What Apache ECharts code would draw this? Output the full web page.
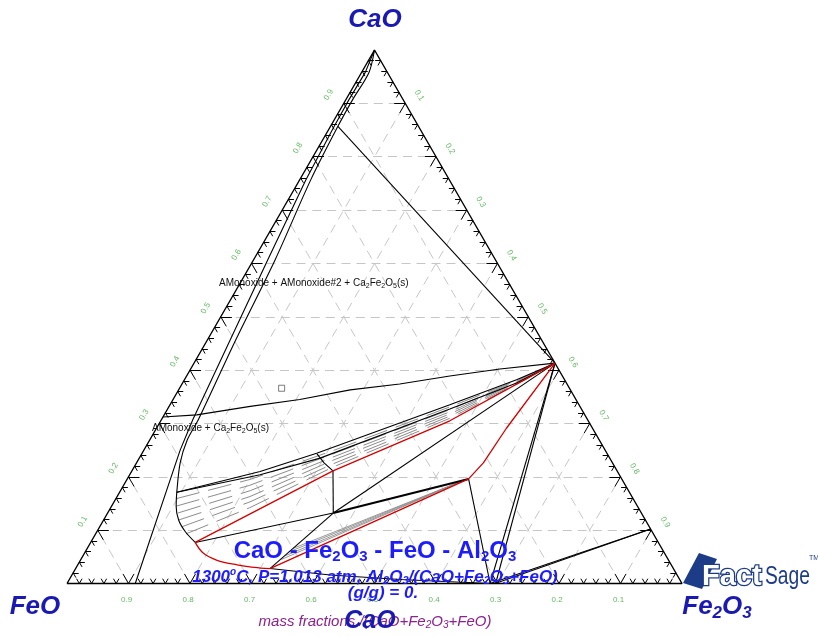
<!DOCTYPE html>
<html>
<head>
<meta charset="utf-8">
<script src="https://cdn.jsdelivr.net/npm/echarts/dist/echarts.min.js"></script>
<style>
  html, body { margin: 0; padding: 0; background: #fff; }
  #chart { width: 818px; height: 636px; }
</style>
</head>
<body>
<div id="chart"></div>
<script>
// CaO - Fe2O3 - FeO isothermal section at 1300 C.
// Every composition is [CaO, Fe2O3] in mass fraction; FeO = 1 - CaO - Fe2O3.

const gridLevels = [0.1, 0.2, 0.3, 0.4, 0.5, 0.6, 0.7, 0.8, 0.9];
const axisLabels = ['0.1', '0.2', '0.3', '0.4', '0.5', '0.6', '0.7', '0.8', '0.9'];

// Ca2Fe2O5 composition
const c2f = [0.413, 0.587];

// monoxide boundary running from the CaO corner to the FeO-Fe2O3 side
const monoxideEdge = [[1.000, 0.000], [0.958, 0.006], [0.907, 0.005], [0.857, 0.006], [0.757, 0.010],
  [0.607, 0.023], [0.457, 0.037], [0.307, 0.051], [0.250, 0.059], [0.000, 0.111]];

// monoxide / liquid boundary
const liquidEdge = [[1.000, 0.000], [0.958, 0.012], [0.907, 0.011], [0.857, 0.012], [0.757, 0.018],
  [0.607, 0.035], [0.457, 0.046], [0.307, 0.060], [0.269, 0.061], [0.226, 0.071], [0.171, 0.093],
  [0.145, 0.105], [0.119, 0.122], [0.097, 0.144], [0.077, 0.170]];

// liquidus (red)
const liquidusLow = [[0.077, 0.170], [0.057, 0.193], [0.044, 0.221], [0.035, 0.259], [0.029, 0.300], [0.028, 0.316]];
const liquidusMid = [[0.028, 0.316], [0.196, 0.555], [0.226, 0.564], [0.291, 0.569], [0.413, 0.587]];
const liquidusUp = [[0.077, 0.170], [0.211, 0.327], [0.305, 0.470], [0.413, 0.587]];

// black phase boundaries
const c2fLineTop = [[0.857, 0.012], [0.413, 0.587]];
const monoxideC2f = [[0.312, 0.000], [0.316, 0.053], [0.332, 0.132], [0.345, 0.206], [0.363, 0.279],
  [0.374, 0.354], [0.389, 0.428], [0.402, 0.503], [0.413, 0.587]];
const fanTopA = [[0.171, 0.093], [0.210, 0.209], [0.244, 0.284], [0.335, 0.455], [0.382, 0.540], [0.413, 0.587]];
const fanTopB = [[0.171, 0.093], [0.204, 0.212], [0.235, 0.294], [0.327, 0.459], [0.376, 0.543], [0.413, 0.587]];
const kinkLine = [[0.243, 0.285], [0.226, 0.305], [0.211, 0.327]];
const vertLine = [[0.211, 0.327], [0.132, 0.367]];
const triLeft = [[0.077, 0.170], [0.132, 0.367]];
const triToC2f = [[0.132, 0.367], [0.413, 0.587]];
const triRight = [[0.132, 0.367], [0.196, 0.555]];
const triDown = [[0.132, 0.367], [0.028, 0.316]];
const baseLine = [[0.028, 0.316], [0.016, 0.420], [0.0075, 0.538], [0.000, 0.688]];
const c2fDownA = [[0.413, 0.587], [0.000, 0.688]];
const c2fDownB = [[0.413, 0.587], [0.000, 0.697]];
const kneeDown = [[0.196, 0.555], [0.000, 0.688]];
const ferriteA = [[0.102, 0.898], [0.000, 0.688]];
const ferriteB = [[0.102, 0.898], [0.000, 0.696]];

// tie lines liquid + Ca2Fe2O5
const tieUpper = [
  [[0.159, 0.098], [0.195, 0.200], [0.249, 0.308], [0.331, 0.457], [0.380, 0.540], [0.413, 0.587]],
  [[0.145, 0.105], [0.184, 0.205], [0.243, 0.311], [0.326, 0.460], [0.379, 0.541], [0.413, 0.587]],
  [[0.132, 0.114], [0.174, 0.211], [0.237, 0.314], [0.322, 0.462], [0.377, 0.542], [0.413, 0.587]],
  [[0.119, 0.122], [0.163, 0.216], [0.231, 0.317], [0.318, 0.464], [0.376, 0.542], [0.413, 0.587]],
  [[0.106, 0.133], [0.153, 0.221], [0.224, 0.320], [0.314, 0.466], [0.374, 0.543], [0.413, 0.587]],
  [[0.093, 0.147], [0.142, 0.226], [0.218, 0.323], [0.310, 0.468], [0.373, 0.544], [0.413, 0.587]]
];
// tie lines in the lower two-phase field
const tieLower = [
  [[0.045, 0.326], [0.195, 0.551]],
  [[0.052, 0.329], [0.195, 0.551]],
  [[0.059, 0.331], [0.195, 0.551]],
  [[0.066, 0.335], [0.195, 0.551]]
];

const markerPoint = [[0.366, 0.166]];

// ---- ternary -> cartesian (x across the base, y = CaO height fraction)
function xy(p) { return [p[1] + p[0] / 2, p[0]]; }
function path(pts) { return pts.map(xy); }

const FONT = 'Liberation Sans, Arial, sans-serif';

function curve(pts, color, width, opts) {
  opts = opts || {};
  return {
    type: 'line', data: path(pts), symbol: 'none', smooth: opts.smooth || false,
    clip: false, silent: true, animation: false, z: opts.z || 3,
    lineStyle: { color: color, width: width, type: opts.type || 'solid' }
  };
}

// dashed grid in the three composition directions
const gridSegs = [];
gridLevels.forEach(function (v) {
  gridSegs.push({ coords: [xy([v, 0]), xy([v, 1 - v])] });
  gridSegs.push({ coords: [xy([0, v]), xy([1 - v, v])] });
  gridSegs.push({ coords: [xy([0, 1 - v]), xy([1 - v, 0])] });
});

// tick marks: two short arms into the triangle from each edge point
const tickSegs = [];
for (let i = 1; i < 50; i++) {
  const t = i / 50;
  const L = (i % 5 === 0) ? 0.018 : 0.009;
  tickSegs.push({ coords: [xy([0, t]), xy([L, t])] });
  tickSegs.push({ coords: [xy([0, t]), xy([L, t - L])] });
  tickSegs.push({ coords: [xy([t, 0]), xy([t, L])] });
  tickSegs.push({ coords: [xy([t, 0]), xy([t - L, L])] });
  tickSegs.push({ coords: [xy([t, 1 - t]), xy([t, 1 - t - L])] });
  tickSegs.push({ coords: [xy([t, 1 - t]), xy([t - L, 1 - t])] });
}

// axis label anchors
const bottomLabels = gridLevels.map(function (v, i) { return [(1 - v) - 0.003, -0.031, axisLabels[i]]; });
const leftLabels = gridLevels.map(function (v, i) { return [v / 2 - 0.0245, v + 0.016, axisLabels[i]]; });
const rightLabels = gridLevels.map(function (v, i) { return [v + (1 - v) / 2 + 0.0228, (1 - v) + 0.015, axisLabels[i]]; });

function labelSeries(data, rotate) {
  return {
    type: 'scatter', data: data, symbolSize: 1, clip: false, silent: true, z: 5,
    itemStyle: { color: 'rgba(0,0,0,0)' },
    label: {
      show: true, position: 'inside', rotate: rotate,
      formatter: function (p) { return p.data[2]; },
      color: '#3da63d', fontSize: 8, fontFamily: FONT
    }
  };
}

const series = [
  { type: 'lines', coordinateSystem: 'cartesian2d', polyline: false, data: gridSegs, silent: true, z: 1,
    lineStyle: { color: '#c6c6c6', width: 1, type: [9, 6], opacity: 1, curveness: 0 } },
  { type: 'lines', coordinateSystem: 'cartesian2d', polyline: false, data: tickSegs, silent: true, z: 4,
    lineStyle: { color: '#000', width: 1, opacity: 1, curveness: 0 } },
  curve([[0, 0], [0, 1], [1, 0], [0, 0]], '#000', 1.4, { z: 4 })
];

tieUpper.forEach(function (t) { series.push(curve(t, '#8c8c8c', 1, { type: [24, 9], z: 2 })); });
tieLower.forEach(function (t) { series.push(curve(t, '#8c8c8c', 0.9, { z: 2 })); });

[monoxideEdge, c2fLineTop, monoxideC2f, fanTopA, fanTopB, kinkLine, vertLine, triLeft, triToC2f,
 triDown, baseLine, c2fDownA, c2fDownB, kneeDown, ferriteA, ferriteB].forEach(function (l) {
  series.push(curve(l, '#000', 1.1));
});
series.push(curve(liquidEdge, '#000', 1.1, { smooth: 0.3 }));
series.push(curve(triRight, '#000', 2));
series.push(curve(liquidusLow, '#d40000', 1.3, { smooth: 0.4, z: 4 }));
series.push(curve(liquidusMid, '#d40000', 1.3, { z: 4 }));
series.push(curve(liquidusUp, '#d40000', 1.3, { z: 4 }));

series.push({
  type: 'scatter', data: path(markerPoint), symbol: 'rect', symbolSize: 6, clip: false, silent: true, z: 5,
  itemStyle: { color: '#fff', borderColor: '#333', borderWidth: 0.8 }
});
series.push(labelSeries(bottomLabels, 0));
series.push(labelSeries(leftLabels, 60));
series.push(labelSeries(rightLabels, -60));

function txt(x, y, text, o) {
  const st = {
    text: text, x: 0, y: 0, fill: o.fill || '#000', fontSize: o.size, fontFamily: FONT,
    fontWeight: o.weight || 'normal', fontStyle: o.style || 'normal',
    align: o.align || 'center', verticalAlign: 'middle', textAlign: o.align || 'center', textVerticalAlign: 'middle'
  };
  if (o.rich) st.rich = o.rich;
  return { type: 'text', x: x, y: y, z: o.z || 100, silent: true, style: st };
}
function sub(size, drop, weight, style, fill) {
  return { fontSize: size, fontFamily: FONT, fontWeight: weight || 'normal', fontStyle: style || 'normal',
    fill: fill, color: fill, padding: [drop, 0, 0, 0] };
}
function sup(size, lift, weight, style, fill) {
  return { fontSize: size, fontFamily: FONT, fontWeight: weight || 'normal', fontStyle: style || 'normal',
    fill: fill, color: fill, padding: [0, 0, lift, 0] };
}

const vtxBlue = '#1a1ab2';
const titleBlue = '#1c1cff';
const purple = '#8e218e';
const navy = '#1d3c88';

const graphics = [
  txt(375, 20, 'CaO', { size: 26, weight: 'bold', style: 'italic', fill: vtxBlue }),
  txt(35, 607, 'FeO', { size: 26, weight: 'bold', style: 'italic', fill: vtxBlue }),
  txt(717, 607, 'Fe{s|2}O{s|3}', { size: 26, weight: 'bold', style: 'italic', fill: vtxBlue,
    rich: { s: sub(17, 13, 'bold', 'italic', vtxBlue) } }),
  txt(375, 551, 'CaO - Fe{s|2}O{s|3} - FeO - Al{s|2}O{s|3}', { size: 24, weight: 'bold', fill: titleBlue,
    rich: { s: sub(15, 12, 'bold', 'normal', titleBlue) } }),
  txt(375, 577, '1300{o|o}C, P=1.013 atm, Al{s|2}O{s|3}/(CaO+Fe{s|2}O{s|3}+FeO)', {
    size: 17, weight: 'bold', style: 'italic', fill: titleBlue,
    rich: { o: sup(10, 9, 'bold', 'italic', titleBlue), s: sub(11, 8, 'bold', 'italic', titleBlue) } }),
  txt(383, 593, '(g/g) = 0.', { size: 17, weight: 'bold', style: 'italic', fill: titleBlue }),
  txt(375, 622, 'mass fractions /(CaO+Fe{s|2}O{s|3}+FeO)', { size: 15, style: 'italic', fill: purple, z: 99,
    rich: { s: sub(10, 7, 'normal', 'italic', purple) } }),
  txt(370, 621, 'CaO', { size: 25, weight: 'bold', style: 'italic', fill: vtxBlue }),
  txt(219, 283, 'AMonoxide + AMonoxide#2 + Ca{s|2}Fe{s|2}O{s|5}(s)', { size: 10, align: 'left', fill: '#111',
    rich: { s: sub(7, 6, 'normal', 'normal', '#111') } }),
  txt(152, 428, 'AMonoxide + Ca{s|2}Fe{s|2}O{s|5}(s)', { size: 10, align: 'left', fill: '#111',
    rich: { s: sub(7, 6, 'normal', 'normal', '#111') } }),
  // FactSage mark
  { type: 'polygon', z: 100, silent: true,
    shape: { points: [[683, 583], [699, 553], [717, 559], [702, 589]] },
    style: { fill: navy } },
  { type: 'text', x: 702, y: 577, z: 101, silent: true,
    style: { text: 'Fact', fontSize: 29, fontWeight: 'bold', fontFamily: FONT, fill: '#fff',
      stroke: navy, lineWidth: 2.5, align: 'left', verticalAlign: 'middle', textAlign: 'left', textVerticalAlign: 'middle' } },
  { type: 'text', x: 765, y: 577, scaleX: 0.74, z: 101, silent: true,
    style: { text: 'Sage', fontSize: 26, fontFamily: FONT, fill: navy,
      align: 'left', verticalAlign: 'middle', textAlign: 'left', textVerticalAlign: 'middle' } },
  { type: 'text', x: 809, y: 558, z: 101, silent: true,
    style: { text: 'TM', fontSize: 7, fontFamily: FONT, fill: navy,
      align: 'left', verticalAlign: 'middle', textAlign: 'left', textVerticalAlign: 'middle' } }
];

const chart = echarts.init(document.getElementById('chart'), null, { renderer: 'canvas' });
chart.setOption({
  animation: false,
  backgroundColor: '#fff',
  grid: { left: 67, top: 50, width: 615, height: 533.5 },
  xAxis: { type: 'value', min: 0, max: 1, show: false },
  yAxis: { type: 'value', min: 0, max: 1, show: false },
  series: series,
  graphic: graphics
});
</script>
</body>
</html>
